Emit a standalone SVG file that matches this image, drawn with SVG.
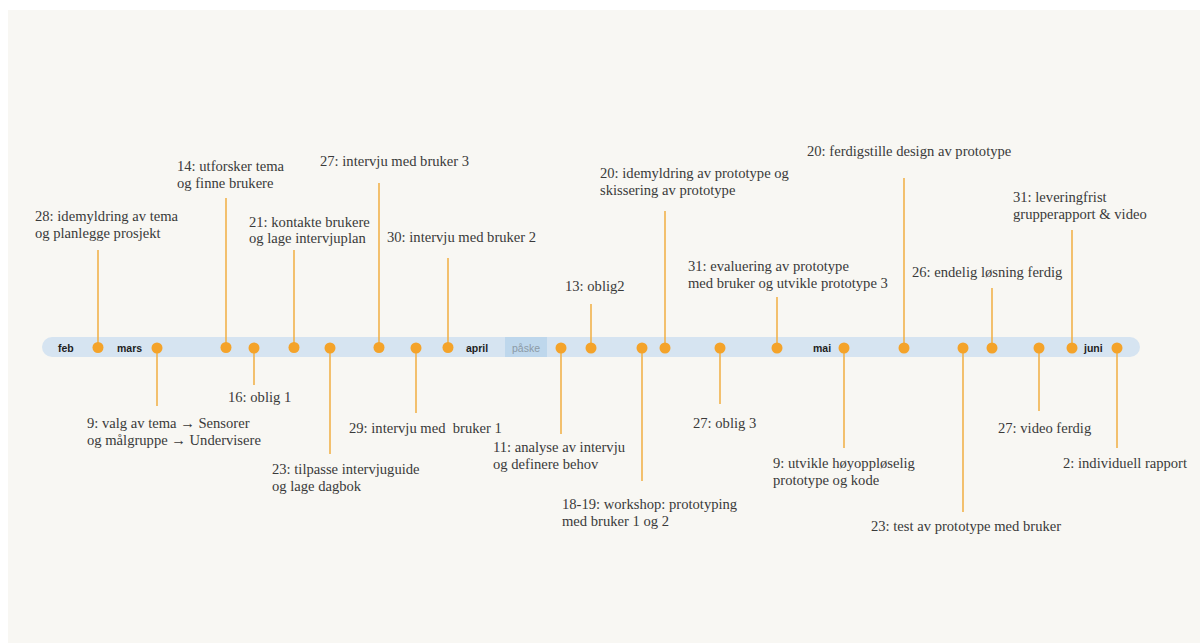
<svg xmlns="http://www.w3.org/2000/svg" width="1200" height="643" viewBox="0 0 1200 643">
  <style>
    .lbl { font-family: "Liberation Serif", "DejaVu Serif", serif; font-size: 14.6px; fill: #3a3a3a; }
    .mon { font-family: "Liberation Sans", Arial, sans-serif; font-size: 10.5px; font-weight: bold; fill: #1e1e1e; }
    .pask { font-family: "Liberation Sans", Arial, sans-serif; font-size: 10.5px; fill: #8c9aa6; }
    .stem { stroke: #f1b24c; stroke-width: 1.6; fill: none; }
    .dot { fill: #f4a32a; }
  </style>

  <!-- page -->
  <rect x="0" y="0" width="1200" height="643" fill="#ffffff"/>
  <rect x="8" y="10" width="1192" height="633" fill="#f8f7f3"/>

  <!-- timeline bar -->
  <g id="timeline">
    <rect x="42" y="337" width="1098" height="20" rx="10" fill="#d6e4f1"/>
    <rect x="505" y="337" width="42" height="20" fill="#bed7ec"/>
    <text class="pask" x="526" y="351.5" text-anchor="middle">påske</text>
    <text class="mon" x="58" y="351.5">feb</text>
    <text class="mon" x="117" y="351.5">mars</text>
    <text class="mon" x="466" y="351.5">april</text>
    <text class="mon" x="813" y="351.5">mai</text>
    <text class="mon" x="1084" y="351.5">juni</text>
  </g>

  <!-- connectors -->
  <g id="connectors" class="stem">
    <line x1="98" y1="250" x2="98" y2="347"/>
    <line x1="157" y1="347" x2="157" y2="406"/>
    <line x1="226" y1="198" x2="226" y2="347"/>
    <line x1="254" y1="347" x2="254" y2="385"/>
    <line x1="294" y1="250" x2="294" y2="347"/>
    <line x1="330" y1="347" x2="330" y2="454"/>
    <line x1="379" y1="183" x2="379" y2="347"/>
    <line x1="416" y1="347" x2="416" y2="413"/>
    <line x1="448" y1="258" x2="448" y2="347"/>
    <line x1="561" y1="347" x2="561" y2="434"/>
    <line x1="591" y1="304" x2="591" y2="347"/>
    <line x1="642" y1="347" x2="642" y2="481"/>
    <line x1="665" y1="211" x2="665" y2="347"/>
    <line x1="720" y1="347" x2="720" y2="404"/>
    <line x1="777" y1="297" x2="777" y2="347"/>
    <line x1="844" y1="347" x2="844" y2="448"/>
    <line x1="904" y1="178" x2="904" y2="347"/>
    <line x1="963" y1="347" x2="963" y2="512"/>
    <line x1="992" y1="288" x2="992" y2="347"/>
    <line x1="1039" y1="347" x2="1039" y2="411"/>
    <line x1="1072" y1="230" x2="1072" y2="347"/>
    <line x1="1117" y1="347" x2="1117" y2="448"/>
  </g>

  <!-- events: dot + label -->
  <g id="e-feb28"><circle class="dot" cx="98" cy="347.5" r="5.5"/>
    <text class="lbl" x="35" y="221">28: idemyldring av tema</text>
    <text class="lbl" x="35" y="238">og planlegge prosjekt</text></g>
  <g id="e-mar09"><circle class="dot" cx="157" cy="348" r="5.5"/>
    <text class="lbl" x="87" y="428">9: valg av tema → Sensorer</text>
    <text class="lbl" x="87" y="445">og målgruppe → Undervisere</text></g>
  <g id="e-mar14"><circle class="dot" cx="226" cy="347.5" r="5.5"/>
    <text class="lbl" x="177" y="171">14: utforsker tema</text>
    <text class="lbl" x="177" y="188">og finne brukere</text></g>
  <g id="e-mar16"><circle class="dot" cx="254" cy="348" r="5.5"/>
    <text class="lbl" x="228" y="402">16: oblig 1</text></g>
  <g id="e-mar21"><circle class="dot" cx="294" cy="347.5" r="5.5"/>
    <text class="lbl" x="249" y="227">21: kontakte brukere</text>
    <text class="lbl" x="249" y="243">og lage intervjuplan</text></g>
  <g id="e-mar23"><circle class="dot" cx="330" cy="348" r="5.5"/>
    <text class="lbl" x="272" y="474">23: tilpasse intervjuguide</text>
    <text class="lbl" x="272" y="491">og lage dagbok</text></g>
  <g id="e-mar27"><circle class="dot" cx="379" cy="347.5" r="5.5"/>
    <text class="lbl" x="320" y="166">27: intervju med bruker 3</text></g>
  <g id="e-mar29"><circle class="dot" cx="416" cy="348" r="5.5"/>
    <text class="lbl" x="349" y="433" xml:space="preserve">29: intervju med  bruker 1</text></g>
  <g id="e-mar30"><circle class="dot" cx="448" cy="347.5" r="5.5"/>
    <text class="lbl" x="387" y="242">30: intervju med bruker 2</text></g>
  <g id="e-apr11"><circle class="dot" cx="561" cy="348" r="5.5"/>
    <text class="lbl" x="493" y="452">11: analyse av intervju</text>
    <text class="lbl" x="493" y="469">og definere behov</text></g>
  <g id="e-apr13"><circle class="dot" cx="591" cy="348" r="5.5"/>
    <text class="lbl" x="565" y="291">13: oblig2</text></g>
  <g id="e-apr18"><circle class="dot" cx="642" cy="348" r="5.5"/>
    <text class="lbl" x="562" y="509">18-19: workshop: prototyping</text>
    <text class="lbl" x="562" y="526">med bruker 1 og 2</text></g>
  <g id="e-apr20"><circle class="dot" cx="665" cy="348" r="5.5"/>
    <text class="lbl" x="600" y="178">20: idemyldring av prototype og</text>
    <text class="lbl" x="600" y="195">skissering av prototype</text></g>
  <g id="e-apr27"><circle class="dot" cx="720" cy="348" r="5.5"/>
    <text class="lbl" x="693" y="428">27: oblig 3</text></g>
  <g id="e-apr31"><circle class="dot" cx="777" cy="348" r="5.5"/>
    <text class="lbl" x="688" y="271">31: evaluering av prototype</text>
    <text class="lbl" x="688" y="288">med bruker og utvikle prototype 3</text></g>
  <g id="e-mai09"><circle class="dot" cx="844" cy="348" r="5.5"/>
    <text class="lbl" x="773" y="468">9: utvikle høyoppløselig</text>
    <text class="lbl" x="773" y="485">prototype og kode</text></g>
  <g id="e-mai20"><circle class="dot" cx="904" cy="348" r="5.5"/>
    <text class="lbl" x="807" y="156">20: ferdigstille design av prototype</text></g>
  <g id="e-mai23"><circle class="dot" cx="963" cy="348" r="5.5"/>
    <text class="lbl" x="871" y="531">23: test av prototype med bruker</text></g>
  <g id="e-mai26"><circle class="dot" cx="992" cy="348" r="5.5"/>
    <text class="lbl" x="912" y="277">26: endelig løsning ferdig</text></g>
  <g id="e-mai27"><circle class="dot" cx="1039" cy="348" r="5.5"/>
    <text class="lbl" x="998" y="433">27: video ferdig</text></g>
  <g id="e-mai31"><circle class="dot" cx="1072" cy="348" r="5.5"/>
    <text class="lbl" x="1013" y="202">31: leveringfrist</text>
    <text class="lbl" x="1013" y="219">grupperapport &amp; video</text></g>
  <g id="e-jun02"><circle class="dot" cx="1117" cy="348" r="5.5"/>
    <text class="lbl" x="1063" y="468">2: individuell rapport</text></g>
</svg>
